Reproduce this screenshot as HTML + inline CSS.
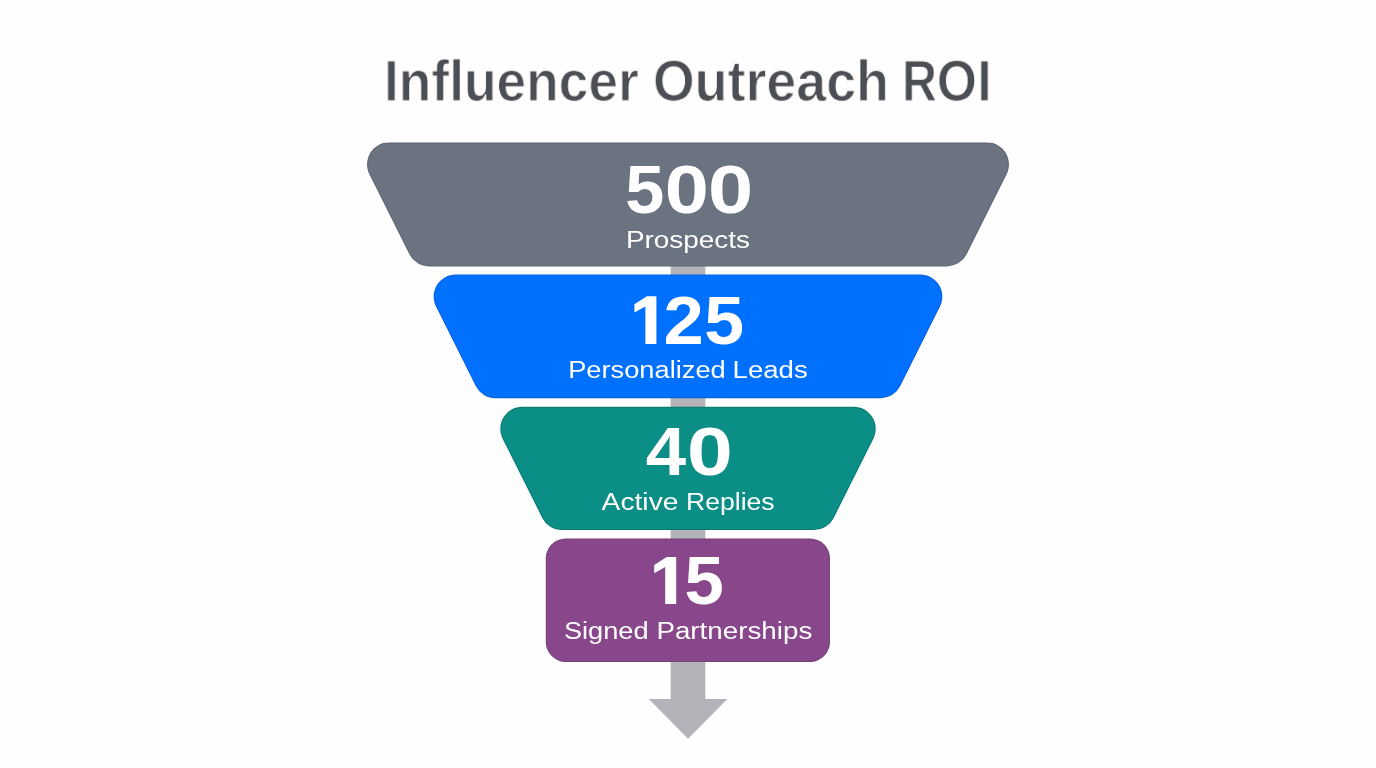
<!DOCTYPE html>
<html lang="en">
<head>
<meta charset="utf-8">
<title>Influencer Outreach ROI</title>
<style>
html,body{margin:0;padding:0;}
body{--bg:#fefefe;width:1376px;height:768px;overflow:hidden;background:var(--bg);font-family:"Liberation Sans",sans-serif;position:relative;}
.art{position:absolute;left:0;top:0;display:block;}
.t{will-change:transform;position:absolute;left:0;top:0;white-space:nowrap;line-height:1;transform-origin:0 0;color:#fff;}
.title{color:#4b4e53;font-weight:bold;-webkit-text-stroke:1px var(--bg);}
.num{font-weight:bold;}
.lab{font-weight:normal;}
</style>
</head>
<body>
<svg class="art" width="1376" height="768" viewBox="0 0 1376 768">
<path fill="#b3b4b9" d="M670.7 260 H705.3 V699 H727.3 L688.1 738.8 L648.8 699 H670.7 Z"/>
<path fill="#5f6674" d="M369.37 174.24A22.00 22.00 0 0 1 389.05 142.40L986.95 142.40A22.00 22.00 0 0 1 1006.63 174.24L966.63 254.24A22.00 22.00 0 0 1 946.95 266.40L429.05 266.40A22.00 22.00 0 0 1 409.37 254.24Z"/>
<path fill="#6b7280" d="M370.26 173.79A21.00 21.00 0 0 1 389.05 143.40L986.95 143.40A21.00 21.00 0 0 1 1005.74 173.79L965.74 253.79A21.00 21.00 0 0 1 946.95 265.40L429.05 265.40A21.00 21.00 0 0 1 410.26 253.79Z"/>
<path fill="#0662dc" d="M436.02 306.44A22.00 22.00 0 0 1 455.70 274.60L920.30 274.60A22.00 22.00 0 0 1 939.98 306.44L900.13 386.14A22.00 22.00 0 0 1 880.45 398.30L495.55 398.30A22.00 22.00 0 0 1 475.87 386.14Z"/>
<path fill="#0070ff" d="M436.91 305.99A21.00 21.00 0 0 1 455.70 275.60L920.30 275.60A21.00 21.00 0 0 1 939.09 305.99L899.24 385.69A21.00 21.00 0 0 1 880.45 397.30L495.55 397.30A21.00 21.00 0 0 1 476.76 385.69Z"/>
<path fill="#0a7b73" d="M502.62 438.64A22.00 22.00 0 0 1 522.30 406.80L853.70 406.80A22.00 22.00 0 0 1 873.38 438.64L833.73 517.94A22.00 22.00 0 0 1 814.05 530.10L561.95 530.10A22.00 22.00 0 0 1 542.27 517.94Z"/>
<path fill="#0b8e85" d="M503.51 438.19A21.00 21.00 0 0 1 522.30 407.80L853.70 407.80A21.00 21.00 0 0 1 872.49 438.19L832.84 517.49A21.00 21.00 0 0 1 814.05 529.10L561.95 529.10A21.00 21.00 0 0 1 543.16 517.49Z"/>
<rect x="545.8" y="538.5" width="284.2" height="123.4" rx="20" ry="20" fill="#764179"/>
<rect x="546.8" y="539.5" width="282.2" height="121.4" rx="19.0" ry="19.0" fill="#88478b"/>
<polygon fill="#fff" points="656.40,296.30 646.90,296.30 634.40,304.30 634.40,312.60 645.40,306.50 645.40,343.90 656.40,343.90"/>
<polygon fill="#fff" points="676.20,556.90 666.70,556.90 654.20,564.90 654.20,573.20 665.20,567.10 665.20,603.90 676.20,603.90"/>
</svg>
<div class="t title" id="e0" style="font-size:57.0px;transform:translate(383.94px,52.81px) scale(0.9354,1)">Influencer</div>
<div class="t title" id="e1" style="font-size:57.0px;transform:translate(652.9px,52.81px) scale(0.9429,1)">Outreach</div>
<div class="t title" id="e2a" style="font-size:57.0px;transform:translate(902.1px,52.81px) scale(0.8463,1)">R</div>
<div class="t title" id="e2b" style="font-size:57.0px;transform:translate(936.78px,52.81px) scale(0.9062,1)">O</div>
<div class="t title" id="e2c" style="font-size:57.0px;transform:translate(977.23px,52.81px) scale(0.9135,1)">I</div>
<div class="t num" id="e3" style="font-size:69px;transform:translate(625.16px,155.08px) scale(1.0189,1)">5</div>
<div class="t num" id="e4" style="font-size:69px;transform:translate(664.71px,155.08px) scale(1.147,1)">0</div>
<div class="t num" id="e5" style="font-size:69px;transform:translate(707.94px,155.08px) scale(1.1767,1)">0</div>
<div class="t lab" id="e6" style="font-size:24.75px;transform:translate(625.93px,228.31px) scale(1.1278,1)">Prospects</div>
<div class="t num" id="e7" style="font-size:69px;transform:translate(663.48px,286.08px) scale(1.0498,1)">2</div>
<div class="t num" id="e8" style="font-size:69px;transform:translate(704.18px,286.08px) scale(1.0385,1)">5</div>
<div class="t lab" id="e9" style="font-size:24.75px;transform:translate(568.15px,358.11px) scale(1.1012,1)">Personalized</div>
<div class="t lab" id="e10" style="font-size:24.75px;transform:translate(732.54px,358.12px) scale(1.1141,1)">Leads</div>
<div class="t num" id="e11" style="font-size:69px;transform:translate(645.84px,417.08px) scale(1.0518,1)">4</div>
<div class="t num" id="e12" style="font-size:69px;transform:translate(687.01px,417.08px) scale(1.1928,1)">0</div>
<div class="t lab" id="e13" style="font-size:24.75px;transform:translate(601.62px,489.91px) scale(1.1394,1)">Active</div>
<div class="t lab" id="e14" style="font-size:24.75px;transform:translate(685.94px,489.91px) scale(1.0747,1)">Replies</div>
<div class="t num" id="e15" style="font-size:69px;transform:translate(684.46px,546.08px) scale(1.0238,1)">5</div>
<div class="t lab" id="e16" style="font-size:24.75px;transform:translate(563.89px,619.01px) scale(1.0982,1)">Signed</div>
<div class="t lab" id="e17" style="font-size:24.75px;transform:translate(656.38px,619.01px) scale(1.1222,1)">Partnerships</div>
</body>
</html>
